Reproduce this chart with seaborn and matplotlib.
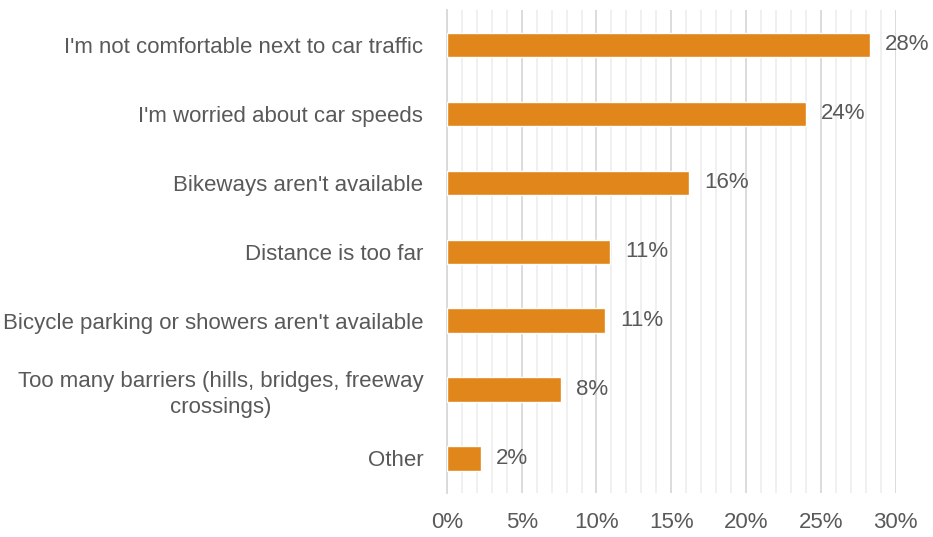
import numpy as np
import pandas as pd
import seaborn as sns
import matplotlib.pyplot as plt
from matplotlib.ticker import MultipleLocator, FuncFormatter
from matplotlib import font_manager

categories = ["I'm not comfortable next to car traffic",
              "I'm worried about car speeds",
              "Bikeways aren't available",
              "Distance is too far",
              "Bicycle parking or showers aren't available",
              "Too many barriers (hills, bridges, freeway\ncrossings)",
              "Other"]
values = [28.3, 24.0, 16.2, 10.9, 10.6, 7.6, 2.3]
labels = ["28%", "24%", "16%", "11%", "11%", "8%", "2%"]

df = pd.DataFrame({'reason': categories, 'pct': values})

sns.set_style('white')
names = {f.name for f in font_manager.fontManager.ttflist}
fam = 'Liberation Sans Narrow' if 'Liberation Sans Narrow' in names else 'Liberation Sans'
plt.rcParams['font.family'] = [fam, 'DejaVu Sans']
txt = '#595959'

fig = plt.figure(figsize=(9.33, 5.37), dpi=100)
ax = fig.add_axes([0.479, 0.082, 0.481, 0.899])

sns.barplot(data=df, x='pct', y='reason', color='#E0861A', saturation=1,
            width=0.35, ax=ax, zorder=3)

ax.set_xlim(0, 30)
ax.xaxis.set_major_locator(MultipleLocator(5))
ax.xaxis.set_minor_locator(MultipleLocator(1))
ax.xaxis.set_major_formatter(FuncFormatter(lambda v, p: f'{v:.0f}%'))
ax.grid(axis='x', which='major', color='#D9D9D9', lw=1.3, zorder=0)
ax.grid(axis='x', which='minor', color='#EFEFEF', lw=1.3, zorder=0)
ax.set_axisbelow(True)

for s in ['top', 'right', 'bottom']:
    ax.spines[s].set_visible(False)
ax.spines['left'].set_color('#D9D9D9')
ax.spines['left'].set_linewidth(1.3)

ax.set_xlabel('')
ax.set_ylabel('')
ax.tick_params(axis='both', which='both', length=0, colors=txt, labelsize=16)
ax.tick_params(axis='x', pad=14)
ax.tick_params(axis='y', pad=17)
for t in ax.get_yticklabels():
    t.set_multialignment('center')
    t.set_linespacing(1.3)

for i, (v, l) in enumerate(zip(values, labels)):
    ax.text(v + 1.0, i, l, va='center', ha='left', color=txt, fontsize=16)

fig.savefig('out.png', dpi=100)
